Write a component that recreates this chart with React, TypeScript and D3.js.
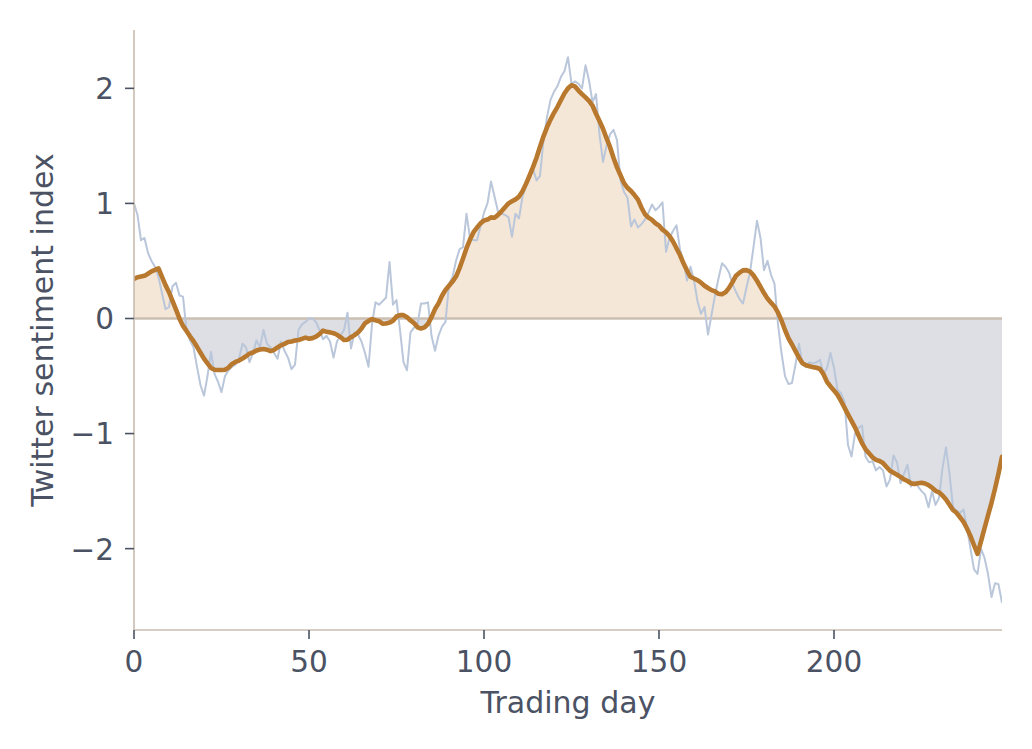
import React from "react";
import * as d3 from "d3";

// Raw daily sentiment index, trading days 0..248
const rawSentiment: number[] = [
  1.0, 0.9, 0.68, 0.7, 0.57, 0.5, 0.45, 0.36, 0.22, 0.08,
  0.1, 0.28, 0.31, 0.2, 0.19, -0.1, -0.19, -0.25, -0.42, -0.58,
  -0.67, -0.5, -0.29, -0.48, -0.55, -0.64, -0.5, -0.45, -0.42, -0.4,
  -0.35, -0.22, -0.25, -0.38, -0.3, -0.19, -0.25, -0.1, -0.22, -0.25,
  -0.3, -0.35, -0.2, -0.28, -0.34, -0.44, -0.4, -0.1, -0.05, -0.03,
  0.0, 0.0, -0.03, -0.1, -0.18, -0.15, -0.2, -0.34, -0.2, -0.15,
  -0.1, 0.05, -0.26, -0.12, -0.14, -0.2, -0.3, -0.42, -0.05, 0.14,
  0.12, 0.15, 0.18, 0.49, 0.12, 0.16, -0.1, -0.38, -0.45, -0.12,
  -0.08, -0.05, 0.13, 0.13, 0.14, -0.15, -0.28, -0.15, -0.07, -0.03,
  0.3, 0.36, 0.5, 0.6, 0.62, 0.91, 0.7, 0.68, 0.68, 0.8,
  0.92, 1.0, 1.19, 1.06, 0.93, 0.91, 0.9, 0.88, 0.71, 0.91,
  0.87, 1.06, 1.15, 1.22, 1.3, 1.2, 1.24, 1.55, 1.75, 1.9,
  1.97, 2.02, 2.1, 2.15, 2.27, 2.04, 2.06, 2.04, 2.0, 2.2,
  2.07, 1.88, 1.95, 1.6, 1.36, 1.5, 1.6, 1.64, 1.55, 1.2,
  1.1, 1.05, 0.8, 0.86, 0.79, 0.82, 0.86, 0.92, 0.99, 0.94,
  0.97, 1.01, 0.58, 0.7, 0.76, 0.81, 0.6, 0.5, 0.33, 0.45,
  0.33, 0.15, 0.04, 0.1, -0.14, 0.03, 0.2, 0.35, 0.48, 0.45,
  0.4, 0.3, 0.23, 0.17, 0.13, 0.27, 0.4, 0.62, 0.85, 0.7,
  0.42, 0.5, 0.38, 0.3, -0.05, -0.3, -0.5, -0.57, -0.56, -0.4,
  -0.22, -0.4, -0.42, -0.38, -0.39, -0.38, -0.36, -0.48, -0.43, -0.3,
  -0.43, -0.62, -0.65, -0.72, -1.1, -1.2, -1.0, -0.95, -0.93, -1.2,
  -1.25, -1.24, -1.32, -1.29, -1.32, -1.46, -1.4, -1.19, -1.25, -1.43,
  -1.35, -1.27, -1.46, -1.42, -1.46, -1.5, -1.53, -1.64, -1.5, -1.62,
  -1.56, -1.3, -1.12, -1.35, -1.64, -1.67, -1.69, -1.66, -1.82, -2.0,
  -2.18, -2.22, -2.0, -2.08, -2.22, -2.42, -2.3, -2.31, -2.47,
];

const smoothWindow = 15;
const xTicks: number[] = [0, 50, 100, 150, 200];
const yTicks: number[] = [-2, -1, 0, 1, 2];
const xLabel = "Trading day";
const yLabel = "Twitter sentiment index";

// centered moving average, zero-padded at the edges (same-length convolution)
function movingAverage(values: number[], w: number): number[] {
  const half = Math.floor(w / 2);
  return values.map((_, i) => {
    let s = 0;
    for (let j = i - half; j <= i + half; j++) {
      if (j >= 0 && j < values.length) s += values[j];
    }
    return s / w;
  });
}

const W = 1032;
const H = 749;
const M = { left: 134, right: 1002, top: 30, bottom: 630 };

const TEXT = "#4a5263";
const SPINE = "#c9bcb0";
const TICK_FS = 29.5;
const LABEL_FS = 30;

function fmt(v: number): string {
  return v < 0 ? "\u2212" + Math.abs(v) : String(v);
}

export default function App() {
  const days = rawSentiment.map((_, i) => i);
  const smooth = movingAverage(rawSentiment, smoothWindow);

  const x = d3.scaleLinear().domain([0, rawSentiment.length - 1]).range([M.left, M.right]);
  const lo = d3.min(rawSentiment) as number;
  const hi = d3.max(rawSentiment) as number;
  const pad = (hi - lo) * 0.05;
  const y = d3.scaleLinear().domain([lo - pad, hi + pad]).range([M.bottom, M.top]);

  const rawLine = d3
    .line<number>()
    .x((_, i) => x(days[i]))
    .y((d) => y(d))(rawSentiment) as string;
  const smoothLine = d3
    .line<number>()
    .x((_, i) => x(days[i]))
    .y((d) => y(d))(smooth) as string;
  const fillArea = d3
    .area<number>()
    .x((_, i) => x(days[i]))
    .y0(y(0))
    .y1((d) => y(d))(smooth) as string;

  const y0 = y(0);

  return (
    <svg
      width={W}
      height={H}
      style={{ position: "absolute", left: 0, top: 0, background: "#fff" }}
      fontFamily="'DejaVu Sans', sans-serif"
    >
      <defs>
        <clipPath id="above">
          <rect x={M.left} y={M.top - 50} width={M.right - M.left} height={y0 - M.top + 50} />
        </clipPath>
        <clipPath id="below">
          <rect x={M.left} y={y0} width={M.right - M.left} height={M.bottom - y0 + 50} />
        </clipPath>
        <clipPath id="plot">
          <rect x={M.left} y={M.top - 20} width={M.right - M.left} height={M.bottom - M.top + 20} />
        </clipPath>
      </defs>

      <path d={fillArea} fill="#f5e7d7" clipPath="url(#above)" />
      <path d={fillArea} fill="#dddfe4" clipPath="url(#below)" />

      <line x1={M.left} x2={M.right} y1={y0} y2={y0} stroke="#cbbfb3" strokeWidth={2.5} />

      <g clipPath="url(#plot)">
        <path d={rawLine} fill="none" stroke="#bac6da" strokeWidth={2} strokeLinejoin="round" />
        <path d={smoothLine} fill="none" stroke="#b8782d" strokeWidth={4.6} strokeLinejoin="round" strokeLinecap="round" />
      </g>

      {/* spines */}
      <line x1={M.left} x2={M.left} y1={M.top} y2={M.bottom} stroke={SPINE} strokeWidth={1.6} />
      <line x1={M.left} x2={M.right} y1={M.bottom} y2={M.bottom} stroke={SPINE} strokeWidth={1.6} />

      {/* x ticks */}
      {xTicks.map((t) => (
        <g key={"x" + t}>
          <line x1={x(t)} x2={x(t)} y1={M.bottom} y2={M.bottom + 9} stroke={TEXT} strokeWidth={1.6} />
          <text x={x(t)} y={672} textAnchor="middle" fontSize={TICK_FS} fill={TEXT}>
            {fmt(t)}
          </text>
        </g>
      ))}

      {/* y ticks */}
      {yTicks.map((t) => (
        <g key={"y" + t}>
          <line x1={M.left - 9} x2={M.left} y1={y(t)} y2={y(t)} stroke={TEXT} strokeWidth={1.6} />
          <text x={114} y={y(t)} dy="0.37em" textAnchor="end" fontSize={TICK_FS} fill={TEXT}>
            {fmt(t)}
          </text>
        </g>
      ))}

      <text x={(M.left + M.right) / 2} y={712.5} textAnchor="middle" fontSize={LABEL_FS} fill={TEXT}>
        {xLabel}
      </text>
      <text
        transform={`translate(53, ${(M.top + M.bottom) / 2}) rotate(-90)`}
        textAnchor="middle"
        fontSize={LABEL_FS}
        fill={TEXT}
      >
        {yLabel}
      </text>
    </svg>
  );
}
